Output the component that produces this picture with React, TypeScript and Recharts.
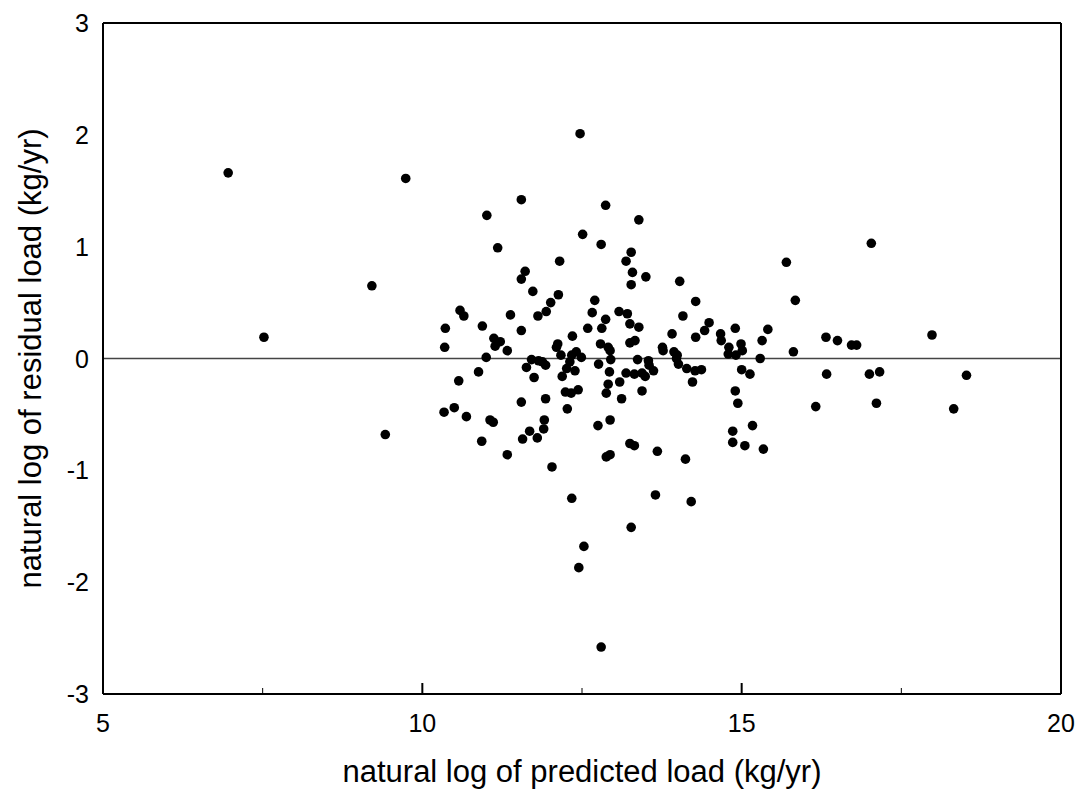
import React from "react";
import { ScatterChart, Scatter, XAxis, YAxis, ReferenceLine } from "recharts";

// natural log of predicted load (kg/yr)
const predictedLoad = [
  6.96, 7.52, 9.21, 9.74, 9.42, 10.36, 10.35, 11.55, 11.01, 11.18,
  12.15, 11.61, 11.55, 11.73, 12.13, 12.01, 10.59, 10.65, 11.38, 11.81,
  11.94, 10.94, 11.55, 12.35, 11.12, 11.22, 11.14, 11.33, 12.12, 12.1,
  12.17, 11.0, 12.34, 12.41, 11.71, 11.82, 11.88, 11.93, 11.63, 10.88,
  11.75, 10.57, 12.31, 12.19, 12.39, 12.26, 11.55, 11.93, 12.24, 12.33,
  12.44, 12.27, 10.5, 10.34, 10.69, 11.06, 11.11, 11.91, 11.9, 11.68,
  11.8, 11.57, 10.93, 11.33, 12.03, 12.34, 12.47, 12.87, 13.39, 12.51,
  12.8, 13.27, 13.19, 13.29, 13.5, 13.27, 15.7, 15.84, 14.03, 14.28,
  14.08, 12.7, 12.66, 12.87, 13.08, 13.21, 13.25, 12.59, 12.81, 13.39,
  12.79, 12.91, 12.94, 13.25, 13.33, 12.95, 12.76, 12.49, 13.37, 13.54,
  13.91, 13.76, 13.77, 13.94, 13.99, 14.28, 14.42, 14.49, 14.67, 14.68,
  14.9, 14.8, 14.79, 14.91, 14.99, 15.01, 15.32, 15.41, 15.29, 15.81,
  15.0, 13.55, 13.98, 14.01, 14.14, 14.27, 14.37, 14.23, 15.13, 14.9,
  14.94, 14.86, 14.86, 15.05, 15.17, 15.34, 12.75, 12.94, 12.93, 12.91,
  12.88, 13.09, 13.19, 13.32, 13.44, 13.49, 13.62, 13.12, 13.44, 13.25,
  13.32, 12.88, 12.94, 13.68, 14.12, 13.65, 14.21, 13.27, 12.53, 12.45,
  12.8, 17.03, 16.32, 16.5, 16.72, 16.8, 17.98, 16.33, 17.0, 17.16,
  18.52, 16.16, 17.11, 18.32,
];

// natural log of residual load (kg/yr)
const residualLoad = [
  1.66, 0.19, 0.65, 1.61, -0.68, 0.27, 0.1, 1.42, 1.28, 0.99,
  0.87, 0.78, 0.71, 0.6, 0.57, 0.5, 0.43, 0.38, 0.39, 0.38,
  0.42, 0.29, 0.25, 0.2, 0.18, 0.15, 0.11, 0.07, 0.13, 0.1,
  0.03, 0.01, 0.03, 0.06, -0.01, -0.02, -0.03, -0.06, -0.08, -0.12,
  -0.17, -0.2, -0.03, -0.16, -0.11, -0.09, -0.39, -0.36, -0.3, -0.31,
  -0.28, -0.45, -0.44, -0.48, -0.52, -0.55, -0.57, -0.55, -0.63, -0.65,
  -0.71, -0.72, -0.74, -0.86, -0.97, -1.25, 2.01, 1.37, 1.24, 1.11,
  1.02, 0.95, 0.87, 0.77, 0.73, 0.66, 0.86, 0.52, 0.69, 0.51,
  0.38, 0.52, 0.41, 0.35, 0.42, 0.4, 0.31, 0.27, 0.27, 0.28,
  0.13, 0.1, 0.07, 0.14, 0.16, -0.01, -0.05, 0.01, -0.01, -0.02,
  0.22, 0.1, 0.07, 0.06, 0.03, 0.19, 0.25, 0.32, 0.22, 0.16,
  0.27, 0.1, 0.04, 0.03, 0.13, 0.07, 0.16, 0.26, 0.0, 0.06,
  -0.1, -0.06, 0.0, -0.05, -0.09, -0.11, -0.1, -0.21, -0.14, -0.29,
  -0.4, -0.65, -0.75, -0.78, -0.6, -0.81, -0.6, -0.55, -0.12, -0.23,
  -0.31, -0.21, -0.13, -0.14, -0.13, -0.16, -0.11, -0.36, -0.29, -0.76,
  -0.78, -0.88, -0.86, -0.83, -0.9, -1.22, -1.28, -1.51, -1.68, -1.87,
  -2.58, 1.03, 0.19, 0.16, 0.12, 0.12, 0.21, -0.14, -0.14, -0.12,
  -0.15, -0.43, -0.4, -0.45,
];

const xTicks = [5, 7.5, 10, 12.5, 15, 17.5, 20];
const yTicks = [-3, -2, -1, 0, 1, 2, 3];

const xTitle = "natural log of predicted load (kg/yr)";
const yTitle = "natural log of residual load (kg/yr)";

const points = predictedLoad.map((x, i) => ({ x, y: residualLoad[i] }));

const FONT = "'Liberation Sans', Arial, sans-serif";

const isMajor = (v: number) => v % 5 === 0;

function BottomTick({ x, y, payload }: any) {
  const major = isMajor(payload.value);
  return (
    <g>
      <line x1={x} y1={y} x2={x} y2={y - (major ? 11 : 6)} stroke="#000" strokeWidth={major ? 2 : 1} />
      {major && (
        <text x={x} y={y + 38} textAnchor="middle" fontSize={25} fontFamily={FONT} fill="#000">
          {payload.value}
        </text>
      )}
    </g>
  );
}

function TopTick({ x, y, payload }: any) {
  const major = isMajor(payload.value);
  return <line x1={x} y1={y} x2={x} y2={y + (major ? 11 : 6)} stroke="#000" strokeWidth={major ? 2 : 1} />;
}

function LeftTick({ x, y, payload }: any) {
  return (
    <text x={x - 14} y={y} dy="0.36em" textAnchor="end" fontSize={25} fontFamily={FONT} fill="#000">
      {payload.value}
    </text>
  );
}

function RightTick({ x, y }: any) {
  return <line x1={x} y1={y} x2={x - 9} y2={y} stroke="#000" strokeWidth={2} />;
}

const frame = { stroke: "#000", strokeWidth: 2 };

export default function App() {
  return (
    <div style={{ position: "absolute", left: 0, top: 0, background: "#fff" }}>
      <ScatterChart width={1079} height={797} margin={{ top: 22, right: 17, bottom: 0, left: 0 }}>
        <XAxis
          xAxisId="bottom"
          dataKey="x"
          type="number"
          domain={[5, 20]}
          ticks={xTicks}
          interval={0}
          height={103}
          tickSize={0}
          tickMargin={0}
          tickLine={false}
          axisLine={frame}
          tick={<BottomTick />}
          label={(props: any) => {
            const vb = props.viewBox;
            return (
              <text x={vb.x + vb.width / 2} y={vb.y + 88} textAnchor="middle" fontSize={31} fontFamily={FONT} fill="#000">
                {xTitle}
              </text>
            );
          }}
        />
        <XAxis
          xAxisId="top"
          orientation="top"
          type="number"
          domain={[5, 20]}
          ticks={xTicks}
          interval={0}
          height={1}
          tickSize={0}
          tickMargin={0}
          tickLine={false}
          axisLine={frame}
          tick={<TopTick />}
        />
        <YAxis
          yAxisId="left"
          dataKey="y"
          type="number"
          domain={[-3, 3]}
          ticks={yTicks}
          interval={0}
          width={103}
          tickSize={0}
          tickMargin={0}
          tickLine={false}
          axisLine={frame}
          tick={<LeftTick />}
          label={(props: any) => {
            const vb = props.viewBox;
            const cx = 41;
            const cy = vb.y + vb.height / 2;
            return (
              <text
                x={cx}
                y={cy}
                textAnchor="middle"
                fontSize={31}
                fontFamily={FONT}
                fill="#000"
                transform={`rotate(-90, ${cx}, ${cy})`}
              >
                {yTitle}
              </text>
            );
          }}
        />
        <YAxis
          yAxisId="right"
          orientation="right"
          type="number"
          domain={[-3, 3]}
          ticks={yTicks}
          interval={0}
          width={1}
          tickSize={0}
          tickMargin={0}
          tickLine={false}
          axisLine={frame}
          tick={<RightTick />}
        />
        <ReferenceLine xAxisId="bottom" yAxisId="left" y={0} stroke="#444" strokeWidth={1.5} />
        <Scatter
          xAxisId="bottom"
          yAxisId="left"
          data={points}
          isAnimationActive={false}
          shape={(p: any) => <circle cx={p.cx} cy={p.cy} r={4.8} fill="#000" />}
        />
      </ScatterChart>
    </div>
  );
}
